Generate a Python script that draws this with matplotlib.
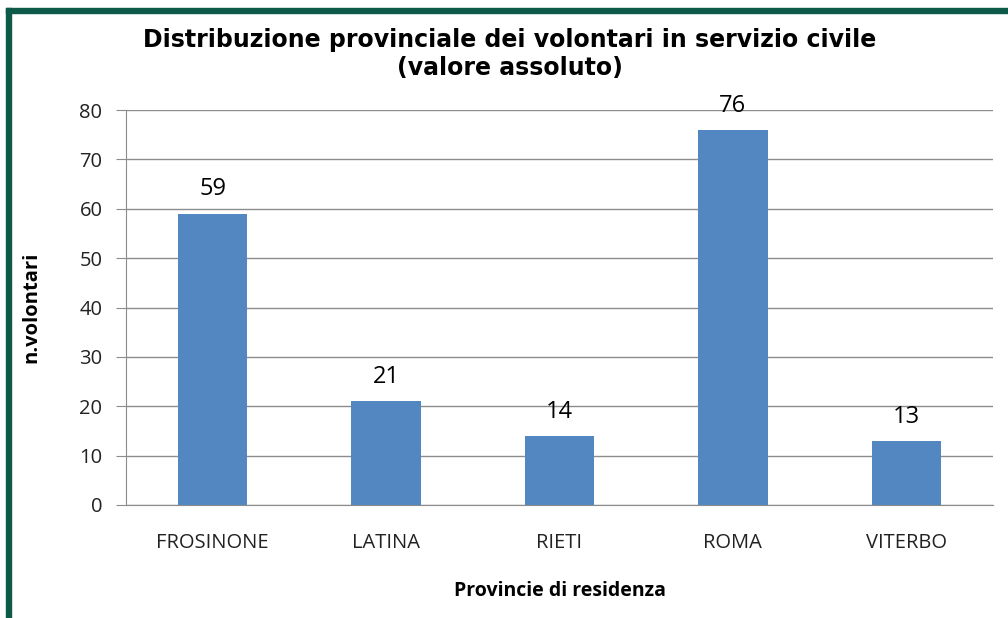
import matplotlib.pyplot as plt
from matplotlib.patches import Rectangle

province = ["FROSINONE", "LATINA", "RIETI", "ROMA", "VITERBO"]
volontari = [59, 21, 14, 76, 13]
y_ticks = [0, 10, 20, 30, 40, 50, 60, 70, 80]

fig = plt.figure(figsize=(10.08, 6.18), dpi=100)
ax = fig.add_axes([126 / 1008, 1 - 505 / 618, 867 / 1008, 395 / 618])

bar_color = "#5387c2"
grid_color = "#8c8c8c"
label_font = "Open Sans"

x = range(len(province))
bars = ax.bar(x, volontari, width=0.4, color=bar_color, zorder=3)
for b, v in zip(bars, volontari):
    ax.text(b.get_x() + b.get_width() / 2, v + 4.9, str(v), ha="center", va="center",
            fontsize=17, family=label_font, color="#000000")

ax.set_xlim(-0.5, len(province) - 0.5)
ax.set_ylim(0, 80)
ax.set_yticks(y_ticks)
ax.set_xticks(list(x))
ax.set_xticklabels(province, fontsize=14.5, family=label_font, color="#222222")
ax.tick_params(axis="y", labelsize=14.5, direction="out", length=7, color=grid_color,
               pad=10, labelcolor="#222222")
for t in ax.get_yticklabels():
    t.set_family(label_font)
ax.tick_params(axis="x", length=0, pad=20)
ax.yaxis.grid(True, color=grid_color, linewidth=1, zorder=0)
for s in ["top", "right"]:
    ax.spines[s].set_visible(False)
ax.spines["left"].set_color(grid_color)
ax.spines["bottom"].set_color(grid_color)

ax.set_ylabel("n.volontari", fontsize=14.5, fontweight="bold", family=label_font, labelpad=27)
ax.set_xlabel("Provincie di residenza", fontsize=14, fontweight="bold",
              family=label_font, labelpad=20)

fig.text(0.506, 1 - 54 / 618, "Distribuzione provinciale dei volontari in servizio civile\n(valore assoluto)",
         ha="center", va="center", fontsize=17, fontweight="bold", linespacing=1.25)

# dark green frame on top and left
green = "#0d5a48"
fig.patches.append(Rectangle((6 / 1008, 1 - 13 / 618), 1.0, 5 / 618, transform=fig.transFigure,
                             color=green, zorder=10))
fig.patches.append(Rectangle((6 / 1008, 0), 5 / 1008, 1 - 8 / 618, transform=fig.transFigure,
                             color=green, zorder=10))

fig.savefig("out.png", dpi=100)
